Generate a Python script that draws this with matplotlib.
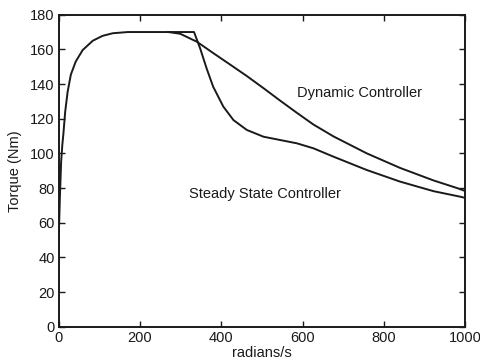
import numpy as np
import matplotlib
matplotlib.use('Agg')
import matplotlib.pyplot as plt

# curves (rad/s, Nm)
rise_speed = [0, 3, 6, 9, 11.5, 16, 22, 30, 42, 59, 84, 108, 133, 170, 220, 270]
rise_torque = [50, 75, 95, 105, 111, 124, 135.5, 145.5, 153, 159.6, 165, 167.8, 169.3, 170, 170, 170]

dyn_speed = [270, 299, 340, 380, 422, 463, 504, 545, 586, 627, 676, 758, 840, 922, 980, 1000]
dyn_torque = [170, 169, 164.4, 157.9, 151.2, 144.6, 137.6, 130.4, 123.4, 116.6, 109.8, 100, 91.6, 84.4, 80.0, 78.3]

ss_speed = [270, 333, 348, 364, 380, 405, 430, 463, 504, 545, 586, 627, 676, 758, 840, 922, 988, 1000]
ss_torque = [170, 170, 160.6, 149, 138.5, 127, 119.2, 113.5, 109.6, 107.7, 105.8, 102.9, 98.1, 90.4, 83.7, 78.2, 75.0, 74.3]

x_ticks = [0, 200, 400, 600, 800, 1000]
y_ticks = [0, 20, 40, 60, 80, 100, 120, 140, 160, 180]

plt.rcParams['font.family'] = ['Liberation Sans', 'DejaVu Sans']
fs = 10.5
ink = '#1a1a1a'

fig = plt.figure(figsize=(4.81, 3.63), dpi=100)
ax = fig.add_axes([0.122, 0.100, 0.845, 0.8595])

ax.plot(rise_speed, rise_torque, color=ink, lw=1.4)
ax.plot(dyn_speed, dyn_torque, color=ink, lw=1.4)
ax.plot(ss_speed, ss_torque, color=ink, lw=1.4)

ax.text(741, 134.8, 'Dynamic Controller', fontsize=fs, color=ink, ha='center', va='center')
ax.text(507, 76.5, 'Steady State Controller', fontsize=fs, color=ink, ha='center', va='center')

ax.set_xlim(0, 1000)
ax.set_ylim(0, 180)
ax.set_xticks(x_ticks)
ax.set_yticks(y_ticks)
ax.tick_params(direction='in', length=4, width=1, colors=ink, labelsize=fs,
               top=True, right=True, pad=3)
for s in ax.spines.values():
    s.set_linewidth(1.4)
    s.set_color(ink)

ax.set_xlabel('radians/s', fontsize=fs, color=ink, labelpad=1)
ax.set_ylabel('Torque (Nm)', fontsize=fs, color=ink, labelpad=6)

fig.savefig('out.png', dpi=100)
